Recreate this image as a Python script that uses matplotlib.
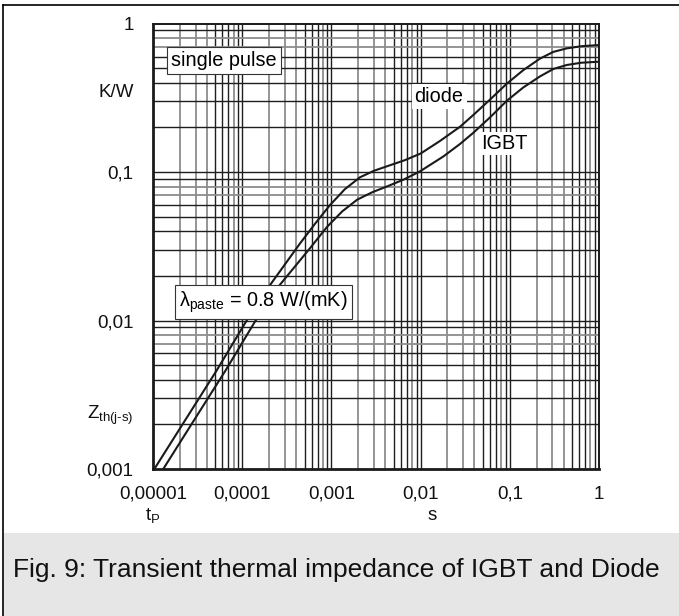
import matplotlib
matplotlib.use("Agg")
import matplotlib.pyplot as plt
from matplotlib.lines import Line2D
from matplotlib.patches import Rectangle

#########################
# DATA
#########################

TIME_TICKS = [1e-5, 1e-4, 1e-3, 1e-2, 1e-1, 1]
TIME_LABELS = ["0,00001", "0,0001", "0,001", "0,01", "0,1", "1"]

Z_TICKS = [1, 0.357, 0.1, 0.01, 0.00245, 0.001]
Z_LABELS = ["1", "K/W", "0,1", "0,01", r"Z$_{\mathrm{th(j\text{-}s)}}$", "0,001"]

# diode, single pulse (s, K/W)
diode_t = [1.035e-5, 2.19e-5, 5.18e-5, 1.122e-4, 2.05e-4, 4.45e-4, 6.61e-4, 9.64e-4,
           1.413e-3, 2.09e-3, 3.02e-3, 4.47e-3, 6.61e-3, 0.01, 0.0165, 0.0277,
           0.039, 0.0603, 0.0923, 0.1413, 0.218, 0.308, 0.435, 0.631, 1.0]
diode_z = [0.001, 0.00204, 0.00462, 0.0100, 0.01734, 0.0331, 0.0452, 0.0600,
           0.0767, 0.0923, 0.1023, 0.1109, 0.1202, 0.1334, 0.1622, 0.2023,
           0.2427, 0.309, 0.394, 0.486, 0.582, 0.646, 0.682, 0.705, 0.718]

# IGBT, single pulse (s, K/W)
igbt_t = [1.303e-5, 2.754e-5, 6.52e-5, 1.413e-4, 2.63e-4, 5.75e-4, 8.91e-4, 1.318e-3,
          1.95e-3, 2.884e-3, 4.27e-3, 6.46e-3, 9.84e-3, 0.01795, 0.0277, 0.039,
          0.0603, 0.0923, 0.1413, 0.218, 0.308, 0.435, 0.631, 1.0]
igbt_z = [0.001, 0.00204, 0.00462, 0.0100, 0.01734, 0.0307, 0.0427, 0.0543,
          0.0653, 0.0733, 0.0804, 0.0891, 0.1012, 0.1274, 0.1549, 0.1841,
          0.2344, 0.302, 0.3715, 0.4416, 0.4955, 0.527, 0.5458, 0.5546]

#########################
# STYLE
#########################

plt.rcParams["font.family"] = ["Liberation Sans", "DejaVu Sans"]
plt.rcParams["mathtext.fontset"] = "custom"
plt.rcParams["mathtext.rm"] = "Liberation Sans"
plt.rcParams["mathtext.it"] = "Liberation Sans:italic"
plt.rcParams["mathtext.bf"] = "Liberation Sans:bold"

DARK = "#1e1e1e"
GRAY = "#8c8c8c"
FS = 13.5      # axis numbers
FS_ANN = 14.3  # boxed notes

W, H = 679, 616
fig = plt.figure(figsize=(W / 100, H / 100), dpi=100)

# caption band and outer frame
fig.add_artist(Rectangle((4 / W, 0), 1, 83 / H, transform=fig.transFigure,
                         facecolor="#e6e6e6", edgecolor="none", zorder=0))
fig.add_artist(Line2D([3 / W, 3 / W], [0, 1 - 5 / H], transform=fig.transFigure,
                      color="black", lw=1.2))
fig.add_artist(Line2D([3 / W, 1], [1 - 5 / H, 1 - 5 / H], transform=fig.transFigure,
                      color="black", lw=1.2))
fig.text(13 / W, 46 / H, "Fig. 9: Transient thermal impedance of IGBT and Diode",
         fontsize=19, ha="left", va="center", color="#111111")

ax = fig.add_axes([153 / W, 147 / H, 446 / W, 445.3 / H])
ax.set_xscale("log")
ax.set_yscale("log")
ax.set_xlim(1e-5, 1)
ax.set_ylim(1e-3, 1)

#########################
# GRID
#########################

for d in range(-5, 0):
    for k in range(1, 10):
        v = k * 10.0 ** d
        if v <= 1e-5:
            continue
        col = GRAY if k in (2, 3, 4, 8) else DARK
        ax.axvline(v, color=col, lw=1.0 if col == DARK else 1.3, zorder=1)
for d in range(-3, 0):
    for k in range(1, 10):
        v = k * 10.0 ** d
        if v <= 1e-3:
            continue
        col = GRAY if k in (7, 8) else DARK
        ax.axhline(v, color=col, lw=1.0 if col == DARK else 1.3, zorder=1)

#########################
# CURVES
#########################

ax.plot(diode_t, diode_z, color="#1a1a1a", lw=1.5, zorder=3, solid_joinstyle="round")
ax.plot(igbt_t, igbt_z, color="#1a1a1a", lw=1.5, zorder=3, solid_joinstyle="round")

#########################
# AXES / LABELS
#########################

for side in ["left", "bottom"]:
    ax.spines[side].set_linewidth(2.0)
for side in ["top", "right"]:
    ax.spines[side].set_linewidth(1.4)
for s in ax.spines.values():
    s.set_color("#1a1a1a")
    s.set_zorder(5)

ax.set_xticks(TIME_TICKS, labels=TIME_LABELS)
ax.set_yticks(Z_TICKS, labels=Z_LABELS)
ax.minorticks_off()
ax.tick_params(axis="x", length=0, pad=12, labelsize=FS, colors="#111111")
ax.tick_params(axis="y", length=0, pad=14, labelsize=FS, colors="#111111")

ax.text(1e-5, -0.105, r"t$_{\mathrm{P}}$", transform=ax.get_xaxis_transform(),
        ha="center", va="center", fontsize=FS, color="#111111")
ax.text(0.0134, -0.105, "s", transform=ax.get_xaxis_transform(),
        ha="center", va="center", fontsize=FS, color="#111111")

box = dict(boxstyle="square,pad=0.2", facecolor="white", edgecolor="#333333", lw=0.8)
ax.text(1.6e-5, 0.569, "single pulse", fontsize=FS_ANN, ha="left", va="center",
        bbox=box, zorder=6)
ax.text(1.73e-4, 0.0133, r"$\mathrm{\lambda_{paste}}$ = 0.8 W/(mK)", fontsize=FS_ANN,
        ha="center", va="center", bbox=box, zorder=6)
ax.text(0.0161, 0.321, "diode", fontsize=FS_ANN, ha="center", va="center", zorder=6,
        bbox=dict(boxstyle="square,pad=0.15", facecolor="white", edgecolor="none"))
ax.text(0.0873, 0.157, "IGBT", fontsize=FS_ANN, ha="center", va="center", zorder=6,
        bbox=dict(boxstyle="square,pad=0.1", facecolor="white", edgecolor="none"))

fig.savefig("out.png", dpi=100)
